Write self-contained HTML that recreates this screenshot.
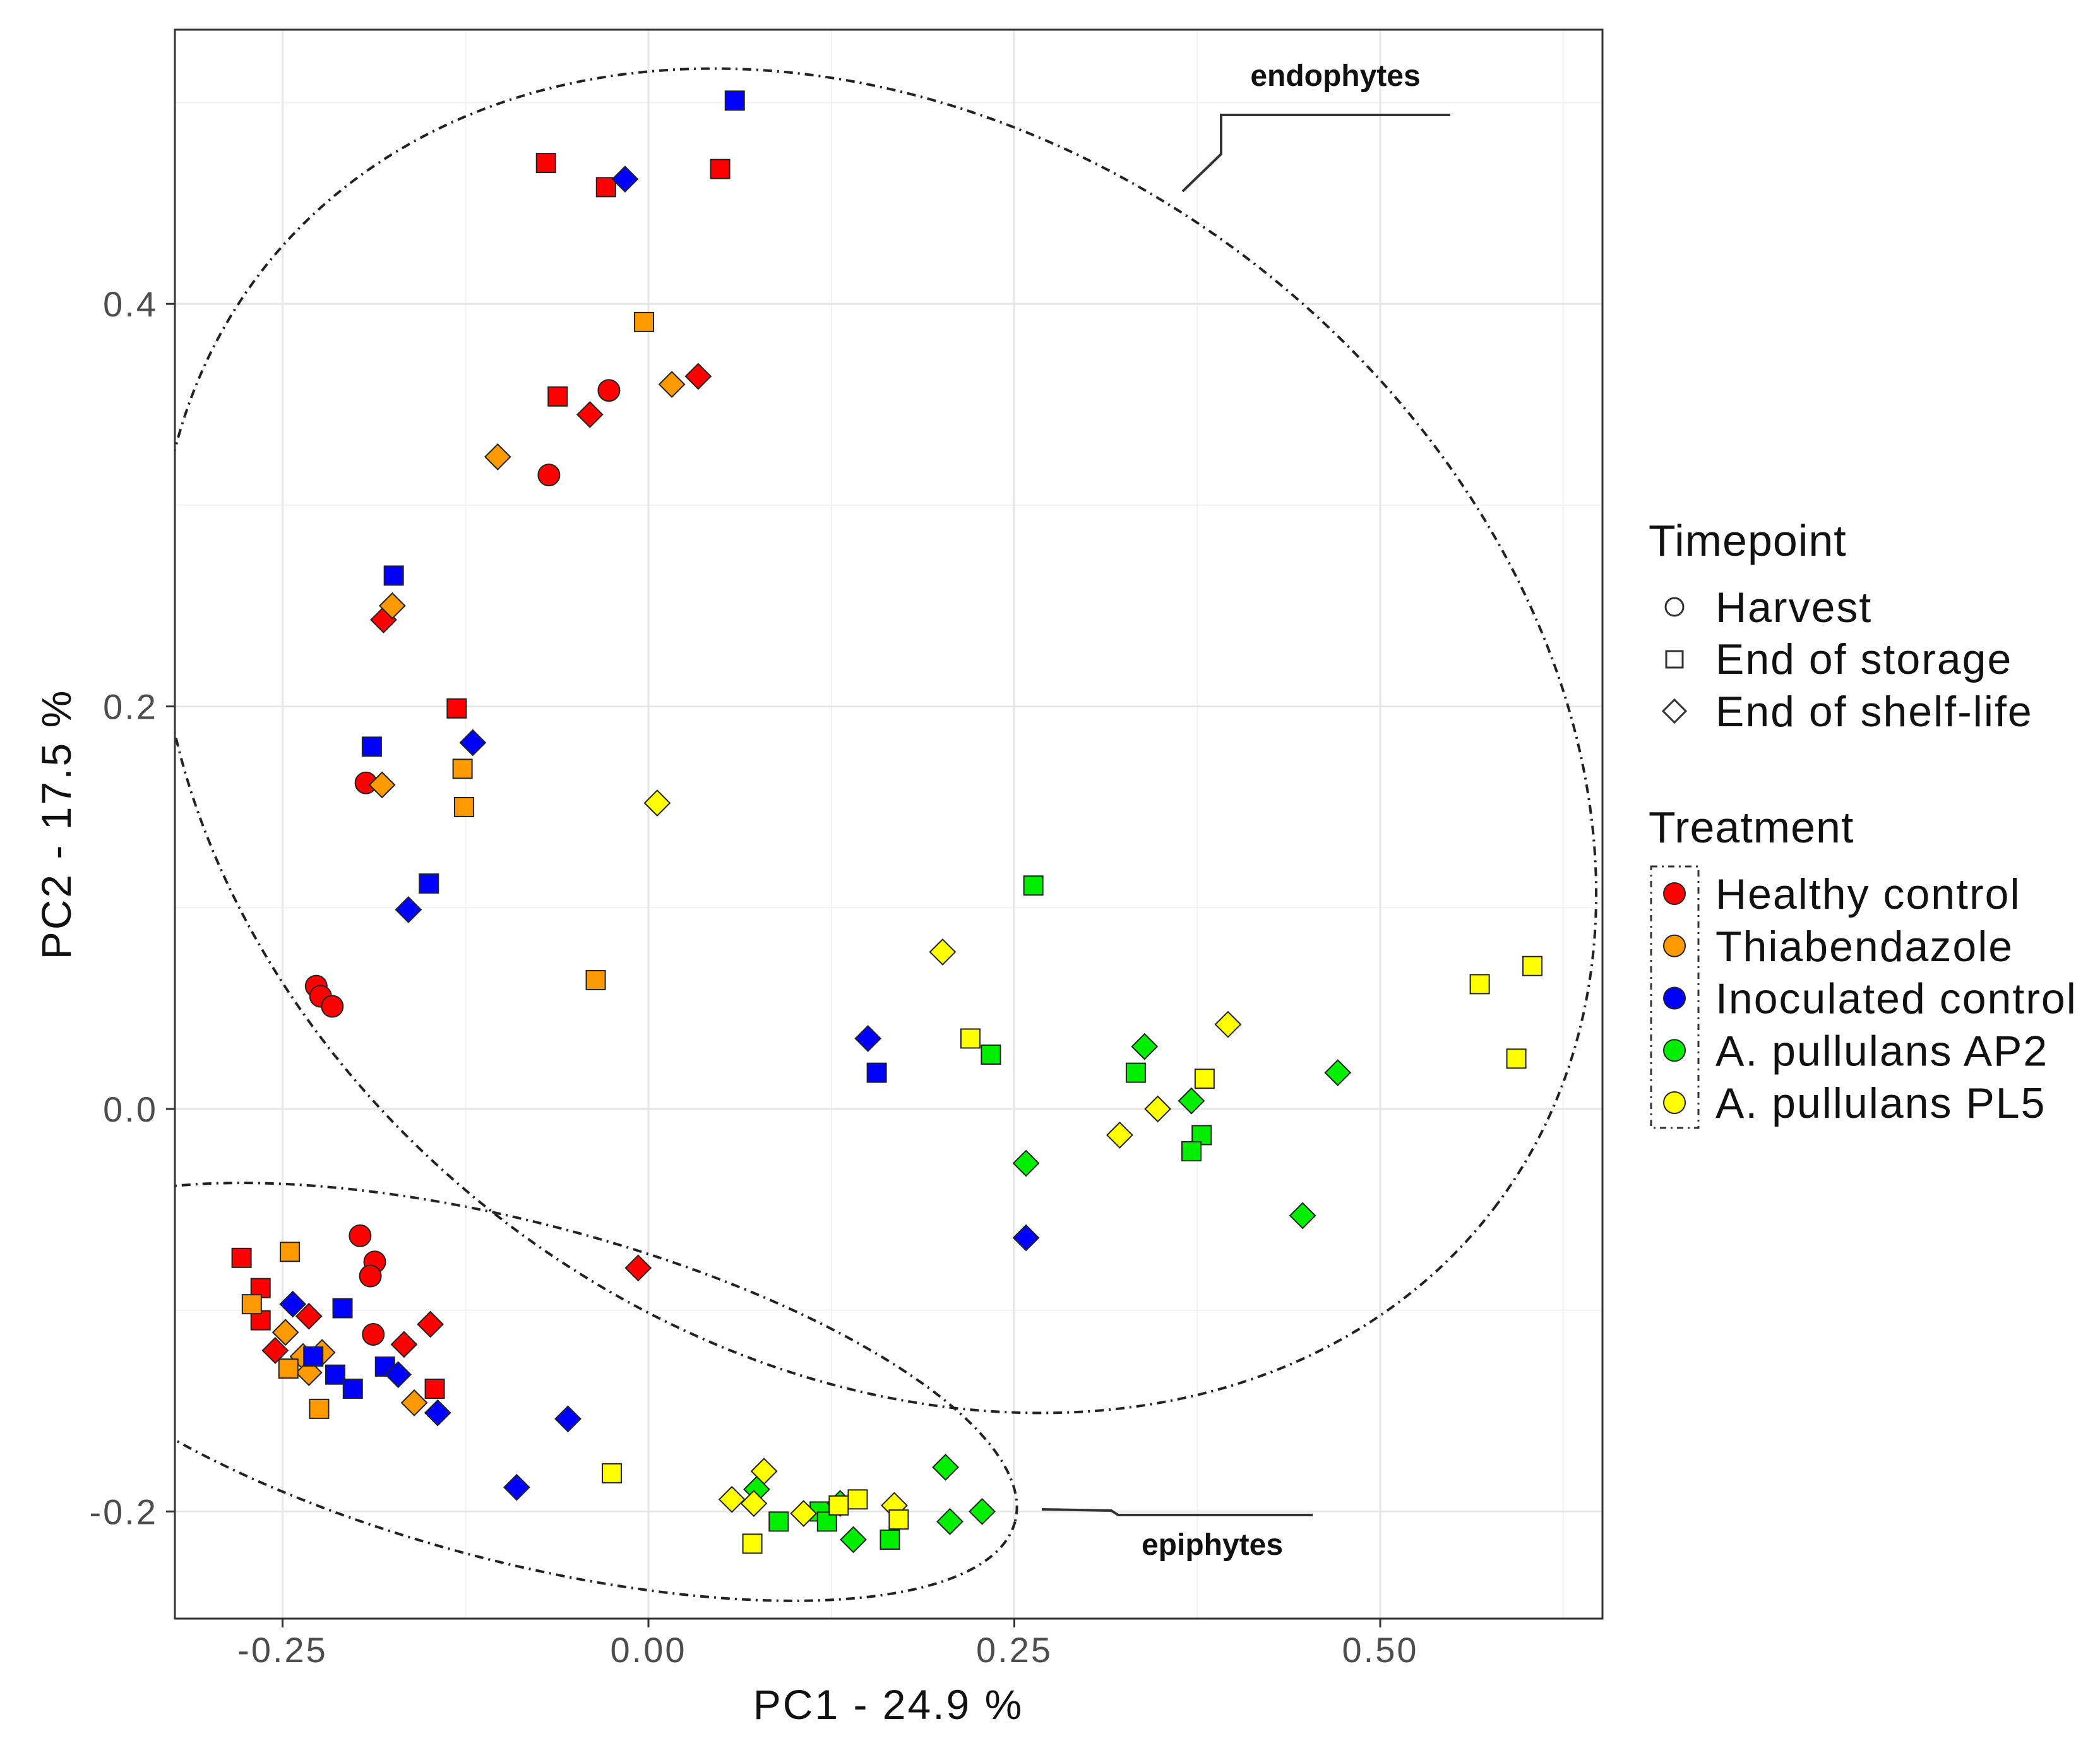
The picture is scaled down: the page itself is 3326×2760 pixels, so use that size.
<!DOCTYPE html>
<html><head><meta charset="utf-8"><style>
html,body{margin:0;padding:0;background:#fff;}
svg{display:block;font-family:"Liberation Sans",sans-serif;}
</style></head><body>
<svg id="chart" width="3326" height="2760" viewBox="0 0 3326 2760" xmlns="http://www.w3.org/2000/svg">
<defs><clipPath id="pc"><rect x="277" y="47" width="2261" height="2516"/></clipPath></defs>
<rect x="277" y="47" width="2261" height="2516" fill="#fff"/>
<g id="grid" clip-path="url(#pc)"></g>
<g clip-path="url(#pc)">
<ellipse cx="1389" cy="1173" rx="1226" ry="963" transform="rotate(36.7 1389 1173)" fill="none" stroke="#222" stroke-width="4" stroke-dasharray="14,8,3,8"/>
<ellipse cx="819" cy="2204" rx="815" ry="268" transform="rotate(14.6 819 2204)" fill="none" stroke="#222" stroke-width="4" stroke-dasharray="14,8,3,8"/>
</g>
<g id="points"></g>
<polyline points="1873,303 1934,244 1934,182 2297,182" fill="none" stroke="#333" stroke-width="4"/>
<text x="2115" y="136" font-size="48" font-weight="bold" text-anchor="middle" fill="#111">endophytes</text>
<polyline points="1650,2390 1760,2392 1771,2399 2079,2399" fill="none" stroke="#333" stroke-width="4"/>
<text x="1920" y="2462" font-size="48" font-weight="bold" text-anchor="middle" fill="#111">epiphytes</text>
<rect x="277" y="47" width="2261" height="2516" fill="none" stroke="#333" stroke-width="3"/>
<g id="axes"></g>
<text x="1407" y="2722" font-size="66" letter-spacing="3" text-anchor="middle" fill="#111">PC1 - 24.9 %</text>
<text transform="translate(112,1305) rotate(-90)" font-size="66" letter-spacing="3" text-anchor="middle" fill="#111">PC2 - 17.5 %</text>
<g>
<text x="2611" y="880" font-size="70" letter-spacing="1" fill="#111">Timepoint</text>
<circle cx="2652" cy="961" r="14" fill="none" stroke="#333" stroke-width="3"/>
<text x="2717" y="985" font-size="68" letter-spacing="2" fill="#111">Harvest</text>
<rect x="2639" y="1031" width="26" height="26" fill="none" stroke="#333" stroke-width="3"/>
<text x="2717" y="1067" font-size="68" letter-spacing="2" fill="#111">End of storage</text>
<polygon points="2652,1108 2670,1126 2652,1144 2634,1126" fill="none" stroke="#333" stroke-width="3"/>
<text x="2717" y="1150" font-size="68" letter-spacing="2" fill="#111">End of shelf-life</text>
</g>
<g id="legend2">
<text x="2611" y="1334" font-size="70" letter-spacing="1" fill="#111">Treatment</text>
<rect x="2615" y="1372" width="75" height="414" fill="none" stroke="#333" stroke-width="3" stroke-dasharray="10,7,3,7"/>
</g>
<script>
const categories=["Healthy control","Thiabendazole","Inoculated control","A. pullulans AP2","A. pullulans PL5"];
const colors=["#ff0000","#ff9900","#0000ff","#00ee00","#ffff00"];
// shape: 0 harvest circle, 1 storage square, 2 shelf-life diamond
const redX=[-0.070,-0.029,0.049,-0.062,-0.027,-0.040,0.034,-0.068,-0.181,-0.131,-0.193,-0.227,-0.224,-0.216,-0.007,-0.197,-0.187,-0.190,-0.278,-0.265,-0.265,-0.232,-0.255,-0.188,-0.149,-0.167,-0.146];
const redY=[0.470,0.458,0.467,0.354,0.357,0.345,0.364,0.315,0.243,0.199,0.162,0.061,0.056,0.051,-0.079,-0.063,-0.076,-0.083,-0.074,-0.089,-0.105,-0.103,-0.120,-0.112,-0.107,-0.117,-0.139];
const redS=[1,1,1,1,0,2,2,0,2,1,0,0,0,0,2,0,0,0,1,1,1,2,2,0,2,2,1];
const orangeX=[-0.003,0.016,-0.103,-0.175,-0.182,-0.127,-0.126,-0.036,-0.245,-0.271,-0.248,-0.236,-0.223,-0.232,-0.225,-0.160,-0.246];
const orangeY=[0.391,0.360,0.324,0.250,0.161,0.169,0.150,0.064,-0.071,-0.097,-0.111,-0.123,-0.121,-0.131,-0.149,-0.146,-0.129];
const orangeS=[1,2,2,2,2,1,1,1,1,1,2,2,2,2,1,2,1];
const blueX=[0.059,-0.016,-0.174,-0.189,-0.120,-0.150,-0.164,0.150,0.156,0.258,-0.243,-0.209,-0.229,-0.214,-0.202,-0.180,-0.171,-0.144,-0.055,-0.090];
const blueY=[0.501,0.462,0.265,0.180,0.182,0.112,0.099,0.035,0.018,-0.064,-0.097,-0.099,-0.123,-0.132,-0.139,-0.128,-0.132,-0.151,-0.154,-0.188];
const blueS=[1,2,1,1,2,1,2,2,1,2,2,1,1,1,1,1,2,2,2,2];
const greenX=[0.263,0.234,0.339,0.333,0.371,0.378,0.371,0.471,0.258,0.447,0.203,0.206,0.228,0.074,0.089,0.117,0.122,0.165,0.140,0.131];
const greenY=[0.111,0.027,0.031,0.018,0.004,-0.013,-0.021,0.018,-0.027,-0.053,-0.178,-0.205,-0.200,-0.189,-0.205,-0.200,-0.205,-0.214,-0.214,-0.196];
const greenS=[1,1,2,1,2,1,1,2,2,2,2,2,2,2,1,1,1,1,2,2];
const yellowX=[0.006,0.201,0.220,0.396,0.380,0.348,0.322,0.568,0.604,0.593,-0.025,0.057,0.072,0.079,0.106,0.168,0.071,0.130,0.143,0.171];
const yellowY=[0.152,0.078,0.035,0.042,0.015,0.000,-0.013,0.062,0.071,0.025,-0.181,-0.194,-0.196,-0.180,-0.201,-0.197,-0.216,-0.197,-0.194,-0.204];
const yellowS=[2,2,1,2,1,2,2,1,1,1,1,2,2,2,2,2,1,1,1,1];
const xTicks=[-0.25,0,0.25,0.5];
const xTickLabels=["-0.25","0.00","0.25","0.50"];
const yTicks=[-0.2,0,0.2,0.4];
const yTickLabels=["-0.2","0.0","0.2","0.4"];

const NS="http://www.w3.org/2000/svg";
const X=v=>1027+v*2318;
const Y=v=>1756-v*3187;
function mk(tag,attrs,parent){const e=document.createElementNS(NS,tag);for(const k in attrs)e.setAttribute(k,attrs[k]);parent.appendChild(e);return e;}
const grid=document.getElementById('grid');
const xMinor=[-0.375,-0.125,0.125,0.375,0.625];
const yMinor=[-0.3,-0.1,0.1,0.3,0.5];
xMinor.forEach(v=>{const l=mk('line',{x1:X(v),x2:X(v),y1:47,y2:2563,stroke:'#f2f2f2','stroke-width':2},grid);

});
yMinor.forEach(v=>{const l=mk('line',{x1:277,x2:2538,y1:Y(v),y2:Y(v),stroke:'#f2f2f2','stroke-width':2},grid);

});
xTicks.forEach(v=>{const l=mk('line',{x1:X(v),x2:X(v),y1:47,y2:2563,stroke:'#e6e6e6','stroke-width':3},grid);

});
yTicks.forEach(v=>{const l=mk('line',{x1:277,x2:2538,y1:Y(v),y2:Y(v),stroke:'#e6e6e6','stroke-width':3},grid);

});
const axes=document.getElementById('axes');
xTicks.forEach((v,i)=>{
 const t=mk('line',{x1:X(v),x2:X(v),y1:2563,y2:2577,stroke:'#333','stroke-width':3},axes);
 
 
 const tx=mk('text',{x:X(v),y:2632,'font-size':56,'letter-spacing':3,'text-anchor':'middle',fill:'#4d4d4d'},axes);
 tx.textContent=xTickLabels[i];
 
 
});
yTicks.forEach((v,i)=>{
 const t=mk('line',{x1:263,x2:277,y1:Y(v),y2:Y(v),stroke:'#333','stroke-width':3},axes);
 
 
 const tx=mk('text',{x:250,y:Y(v)+20,'font-size':56,'letter-spacing':3,'text-anchor':'end',fill:'#4d4d4d'},axes);
 tx.textContent=yTickLabels[i];
 
 
});
const pts=document.getElementById('points');
function marker(shape,cx,cy,fill,parent){
 if(shape===0)return mk('circle',{cx:cx,cy:cy,r:17,fill:fill,stroke:'#222','stroke-width':2},parent);
 if(shape===1)return mk('rect',{x:cx-15,y:cy-15,width:30,height:30,fill:fill,stroke:'#222','stroke-width':2},parent);
 return mk('polygon',{points:`${cx},${cy-20} ${cx+20},${cy} ${cx},${cy+20} ${cx-20},${cy}`,fill:fill,stroke:'#222','stroke-width':2},parent);
}
const series=[[redX,redY,redS],[orangeX,orangeY,orangeS],[blueX,blueY,blueS],[greenX,greenY,greenS],[yellowX,yellowY,yellowS]];
const names=['healthy','thiabendazole','inoculated','ap2','pl5'];
series.forEach((s,k)=>{
 s[0].forEach((x,i)=>{
  const m=marker(s[2][i],X(x),Y(s[1][i]),colors[k],pts);
  
  
 });
});
const lg=document.getElementById('legend2');
categories.forEach((c,i)=>{
 const cy=1415+i*82.75;
 const m=mk('circle',{cx:2652,cy:cy,r:17,fill:colors[i],stroke:'#222','stroke-width':2},lg);
 
 
 const t=mk('text',{x:2717,y:cy+24,'font-size':68,'letter-spacing':2,fill:'#111'},lg);
 t.textContent=c;
 
 
});
</script>
</svg>
</body></html>
